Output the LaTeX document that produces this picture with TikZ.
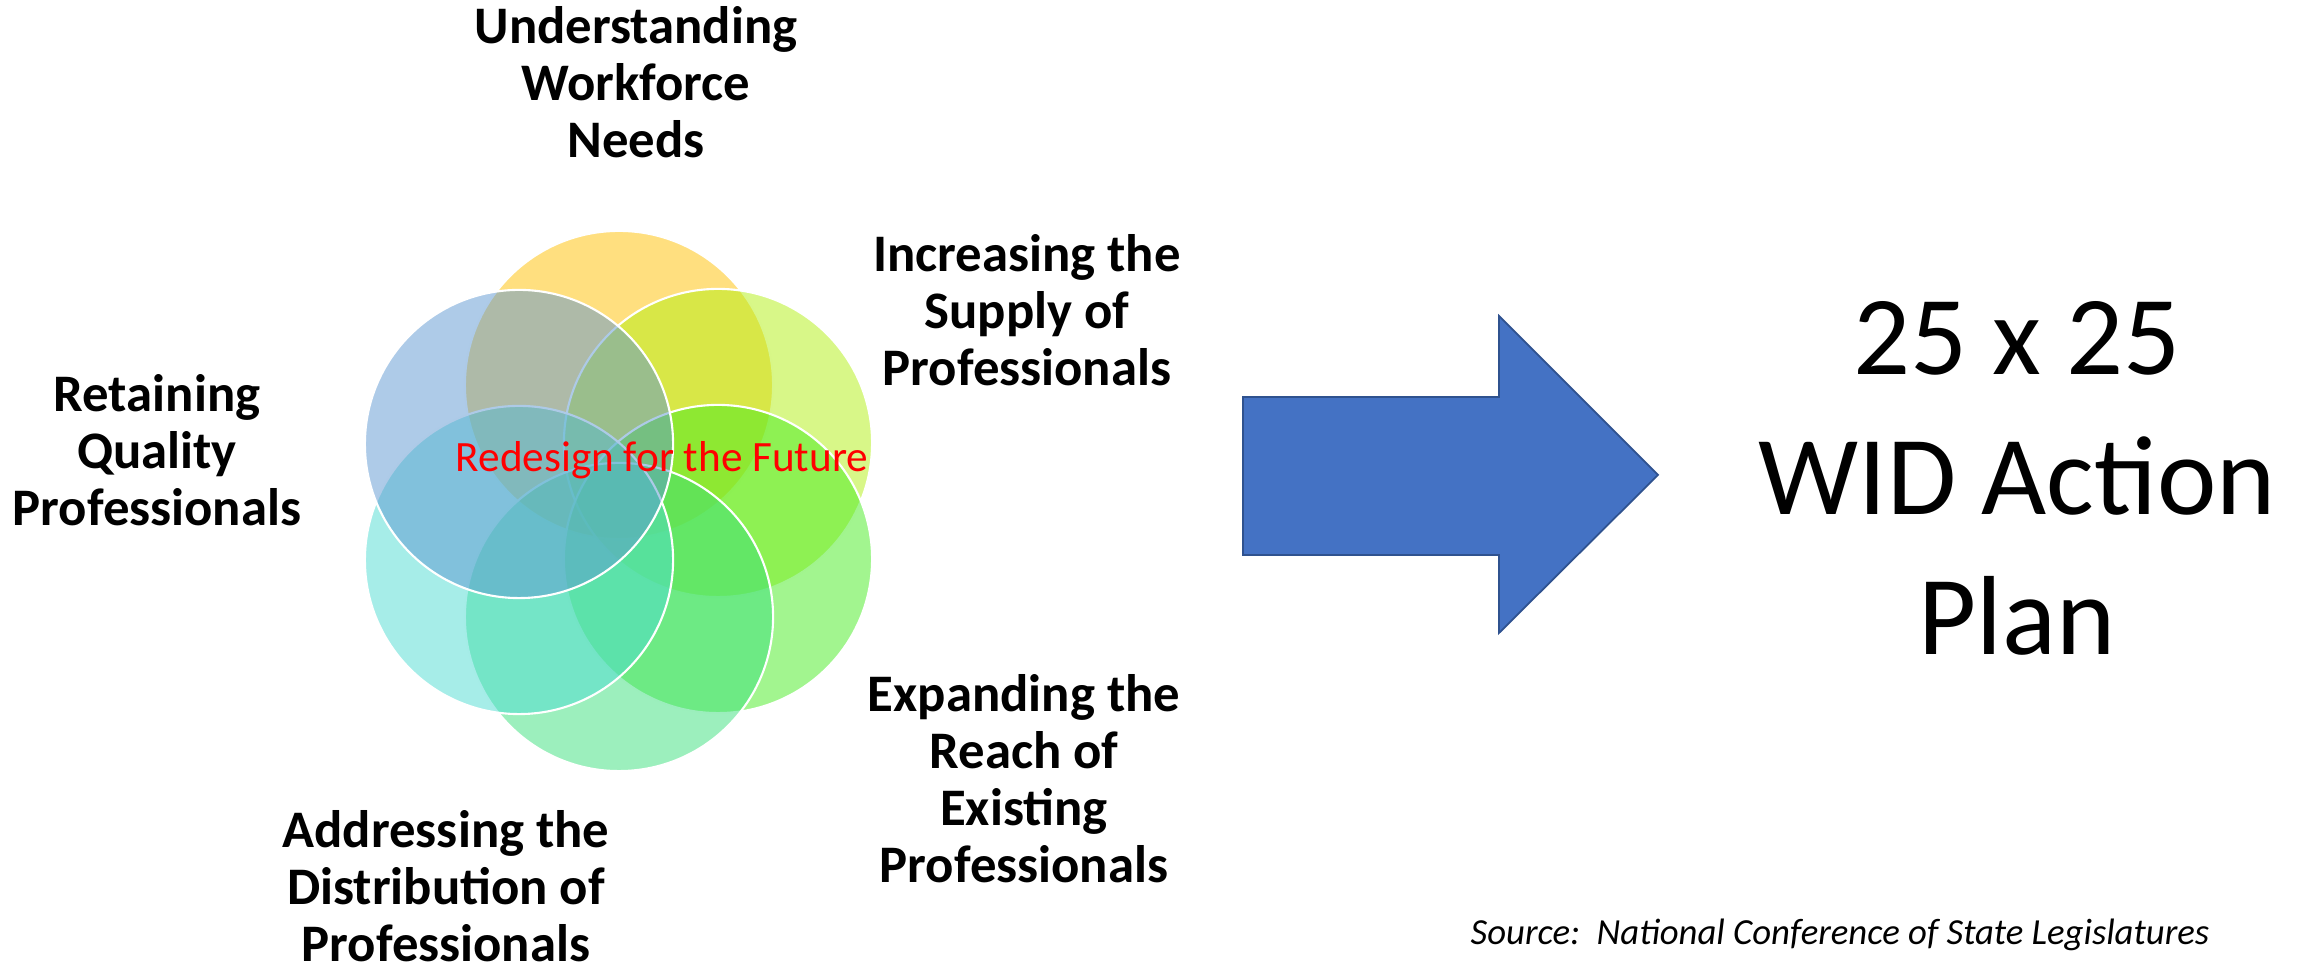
\documentclass[tikz,border=0pt]{standalone}
\usepackage{fontspec}
\setmainfont{Carlito}
\usepackage{tikz}
\usetikzlibrary{shapes}

\definecolor{petalU}{HTML}{FFBF00}
\definecolor{petalI}{HTML}{B1EF11}
\definecolor{petalE}{HTML}{45EB1F}
\definecolor{petalA}{HTML}{39DF7B}
\definecolor{petalD}{HTML}{4DDBD1}
\definecolor{petalR}{HTML}{5D97D1}
\definecolor{arrowblue}{HTML}{4472C4}
\definecolor{arrowedge}{HTML}{2F528F}

\begin{document}
\begin{tikzpicture}[x=0.01cm, y=-0.01cm,
		petal/.style={circle, draw=white, line width=0.6pt, fill opacity=0.5, minimum size=3.08cm, inner sep=0pt},
		lbl/.style={font=\fontsize{15}{16.2}\selectfont\bfseries, align=center, anchor=north, inner sep=0pt}]
		\useasboundingbox (0,0) rectangle (2305,971);
		\node at (619,385) [petal, fill=petalU] (U) {};
		\node at (718,443) [petal, fill=petalI] (I) {};
		\node at (718,559) [petal, fill=petalE] (E) {};
		\node at (619,617) [petal, fill=petalA] (A) {};
		\node at (519,560) [petal, fill=petalD] (D) {};
		\node at (519,444) [petal, fill=petalR] (R) {};
		\node at (662,472) [anchor=base, inner sep=0pt, text=red, font=\fontsize{12.3}{14}\selectfont] (mid) {Redesign for the Future};
		\node at (636,6) [lbl] (Ulbl) {Understanding\\Workforce\\Needs};
		\node at (1027,234) [lbl] (Ilbl) {Increasing the\\Supply of\\Professionals};
		\node at (1024,674) [lbl] (Elbl) {Expanding the\\Reach of\\Existing\\Professionals};
		\node at (446,810) [lbl] (Albl) {Addressing the\\Distribution of\\Professionals};
		\node at (157,374) [lbl] (Rlbl) {Retaining\\Quality\\Professionals};
		\draw[draw=arrowedge, fill=arrowblue, line width=0.5pt] (1243,397) -- (1499,397) -- (1499,316) -- (1658,475) -- (1499,633) -- (1499,555) -- (1243,555) -- cycle;
		\node at (2017,301) [anchor=north, align=center, inner sep=0pt, font=\fontsize{32}{39.8}\selectfont] (plan) {25 x 25\\WID Action\\Plan};
		\node at (1470,945) [anchor=base west, inner sep=0pt, font=\fontsize{10.45}{12}\selectfont\itshape] (src) {Source:\ \ National Conference of State Legislatures};
\end{tikzpicture}
\end{document}
